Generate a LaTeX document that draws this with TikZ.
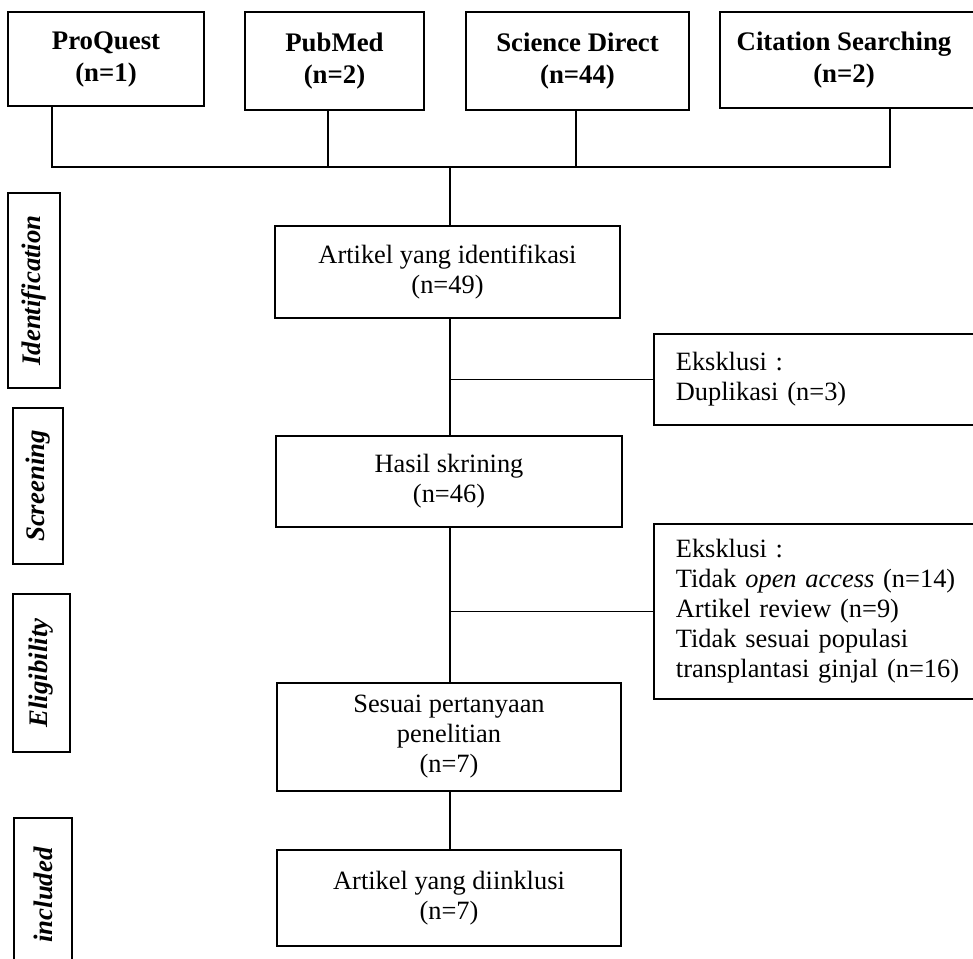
\documentclass[tikz,border=0pt]{standalone}
\usepackage{fontspec}
\setmainfont{Liberation Serif}
\usepackage{tikz}
\usetikzlibrary{positioning}
\usetikzlibrary{calc}
\tikzset{
    box/.style = {rectangle,draw,line width=0.9pt,inner sep=2pt,align=center,
        font=\fontsize{13.2}{15}\selectfont},
    srcbox/.style = {box,font=\fontsize{13.4}{16}\selectfont\bfseries},
    stepbox/.style = {box},
    exclbox/.style = {box,anchor=west,align=left,text width=160pt,inner xsep=11pt},
    phasebox/.style = {box,rotate=90,font=\fontsize{13.4}{15}\selectfont\bfseries\itshape},
    link/.style = {line width=0.9pt}}
\begin{document}
\begin{tikzpicture}[x=0.5pt,y=-0.5pt]
    \useasboundingbox (0,0) rectangle (973,958);
    % sources
    \node[srcbox,minimum width=98pt,minimum height=47pt] (PQ) at (106,59) {ProQuest\\(n=1)};
    \node[srcbox,minimum width=89.5pt,minimum height=49pt] (PM) at (334.5,61) {PubMed\\(n=2)};
    \node[srcbox,minimum width=111.5pt,minimum height=49pt] (SD) at (577.5,61) {Science Direct\\(n=44)};
    \node[srcbox,minimum width=140pt,minimum height=48pt] (CS) at (860,60) {\hspace*{-16pt}Citation Searching\\\hspace*{-16pt}(n=2)};
    % phases
    \node[phasebox,minimum width=97.5pt,minimum height=26pt] (pIdent) at (34,290.5) {Identification};
    \node[phasebox,minimum width=78pt,minimum height=25pt] (pScreen) at (38,486) {Screening};
    \node[phasebox,minimum width=79pt,minimum height=28.5pt] (pElig) at (41.5,673) {Eligibility};
    \node[phasebox,minimum width=77pt,minimum height=29pt] (pIncl) at (43,895) {included};
    % main flow
    \node[stepbox,minimum width=172.5pt,minimum height=46pt] (ident) at (447.5,272) {Artikel yang identifikasi\\(n=49)};
    \node[stepbox,minimum width=173pt,minimum height=45.5pt] (screen) at (449,481.5) {Hasil skrining\\(n=46)};
    \node[stepbox,minimum width=172pt,minimum height=54pt] (elig) at (449,737) {Sesuai pertanyaan\\penelitian\\(n=7)};
    \node[stepbox,minimum width=172pt,minimum height=48pt] (incl) at (449,898) {Artikel yang diinklusi\\(n=7)};
    % exclusions
    \node[exclbox,minimum height=45.5pt] (excl1) at (653,379.5) {Eksklusi :\\Duplikasi (n=3)};
    \node[exclbox,minimum height=87.5pt] (excl2) at (653,611.5) {Eksklusi :\\Tidak \textit{open access} (n=14)\\Artikel review (n=9)\\Tidak sesuai populasi\\transplantasi ginjal (n=16)};
    % joins
    \coordinate (jPQ) at (52,167);
    \coordinate (jPM) at (328,167);
    \coordinate (jSD) at (576,167);
    \coordinate (jCS) at (890,167);
    \coordinate (jMid) at (450,167);
    \draw[link] (jPQ |- PQ.south) -- (jPQ) -- (jCS) -- (jCS |- CS.south);
    \draw[link] (jPM |- PM.south) -- (jPM);
    \draw[link] (jSD |- SD.south) -- (jSD);
    \draw[link] (jMid) -- (jMid |- ident.north);
    \draw[link] (jMid |- ident.south) -- (jMid |- screen.north);
    \draw[link] (jMid |- excl1.west) -- (excl1.west);
    \draw[link] (jMid |- screen.south) -- (jMid |- elig.north);
    \draw[link] (jMid |- excl2.west) -- (excl2.west);
    \draw[link] (jMid |- elig.south) -- (jMid |- incl.north);
\end{tikzpicture}
\end{document}
